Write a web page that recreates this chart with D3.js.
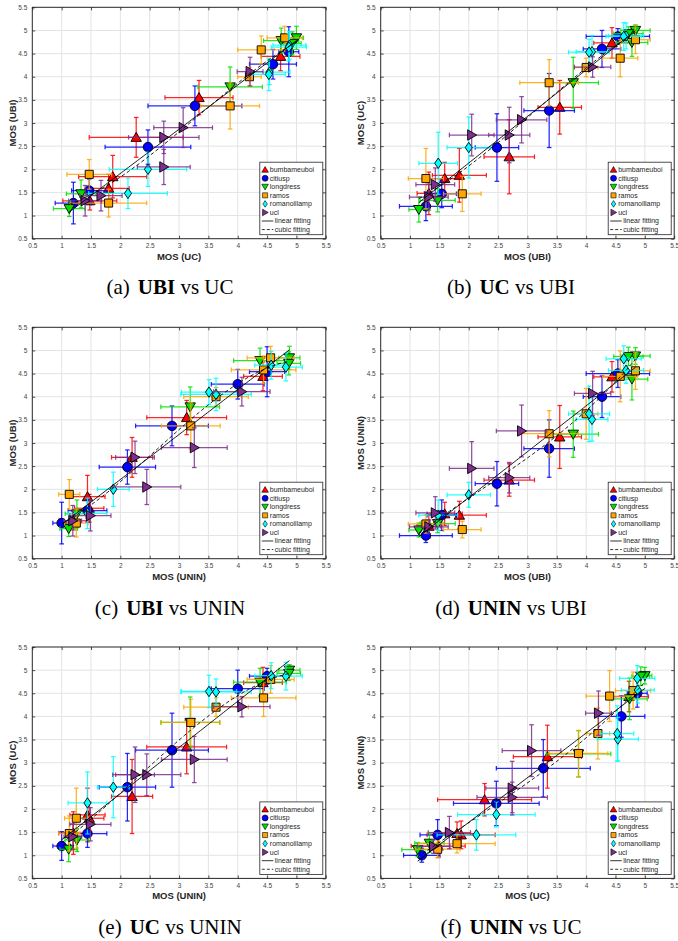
<!DOCTYPE html>
<html><head><meta charset="utf-8">
<script src="https://cdn.jsdelivr.net/npm/d3@7"></script>
<style>body{margin:0;background:#fff}</style>
</head><body>
<svg id="c" width="678" height="941"></svg>
<script>
// ---- data ----
const contents = ["bumbameuboi","citiusp","longdress","ramos","romanoillamp","ucl"];
const colors   = ["#ff0000","#0000ff","#00e000","#ffa500","#00ffff","#7e2f8e"];
const shapes   = ["triUp","circle","triDown","square","diamond","triRight"];
// MOS per lab, one row per content (6 stimuli each)
const mosUBI  = [[2.69,3.55,1.84,1.59,4.44,1.32],[2.48,3.37,4.27,4.54,1.54,1.27],[1.15,1.47,3.78,4.78,4.84,4.72],
                 [1.89,1.27,3.37,4.58,4.84,4.00],[2.00,1.48,4.10,4.05,4.68,4.64],[2.69,2.90,2.05,4.11,1.43,1.32]];
const mosUC   = [[2.27,3.34,1.87,1.80,4.73,1.48],[2.47,3.27,4.60,4.87,1.47,1.20],[1.13,1.33,3.87,4.74,5.00,4.93],
                 [1.47,1.80,3.87,4.40,4.80,4.20],[2.47,2.13,4.54,4.53,4.88,4.87],[2.74,3.07,2.74,4.21,1.67,1.40]];
const mosUNIN = [[2.20,3.13,1.44,1.47,4.43,1.20],[2.12,2.88,4.00,4.50,1.44,1.00],[1.12,1.26,3.19,4.38,4.88,4.87],
                 [1.13,1.25,3.20,4.44,4.56,3.63],[1.88,1.44,3.51,3.63,4.57,4.82],[2.25,3.26,2.45,4.07,1.49,1.19]];
// 95% confidence interval half-widths
const ciUBI  = [[0.43,0.37,0.46,0.30,0.31,0.20],[0.37,0.43,0.32,0.54,0.25,0.45],[0.17,0.30,0.43,0.27,0.25,0.25],
                [0.32,0.30,0.50,0.30,0.25,0.20],[0.37,0.33,0.27,0.35,0.30,0.30],[0.35,0.43,0.38,0.31,0.33,0.33]];
const ciUC   = [[0.80,0.58,0.58,0.35,0.33,0.46],[0.73,0.80,0.40,0.17,0.30,0.31],[0.27,0.25,0.55,0.30,0.12,0.15],
                [0.38,0.65,0.50,0.40,0.30,0.20],[0.66,0.67,0.35,0.28,0.28,0.30],[0.60,0.50,0.45,0.22,0.36,0.28]];
const ciUNIN = [[0.35,0.68,0.30,0.25,0.33,0.25],[0.48,0.62,0.45,0.30,0.33,0.15],[0.15,0.20,0.50,0.45,0.18,0.20],
                [0.18,0.20,0.50,0.55,0.40,0.55],[0.27,0.33,0.47,0.60,0.28,0.28],[0.33,0.56,0.58,0.48,0.35,0.15]];
const tickValues = [0.5,1,1.5,2,2.5,3,3.5,4,4.5,5,5.5];
const tickLabels = ["0.5","1","1.5","2","2.5","3","3.5","4","4.5","5","5.5"];
const fitLabels = ["linear fitting","cubic fitting"];
const labs = {UBI:[mosUBI,ciUBI], UC:[mosUC,ciUC], UNIN:[mosUNIN,ciUNIN]};
const panels = [
  {letter:"a", x:"UC",   y:"UBI"},
  {letter:"b", x:"UBI",  y:"UC"},
  {letter:"c", x:"UNIN", y:"UBI"},
  {letter:"d", x:"UBI",  y:"UNIN"},
  {letter:"e", x:"UNIN", y:"UC"},
  {letter:"f", x:"UC",   y:"UNIN"}
];

// ---- layout ----
const colLeft = [32.3, 380.7], plotW = 293.5;
const rowTop = [7.3, 327.3, 647], plotH = 231.4;
const capCx = [170, 511], capY = [294, 615, 934];
const sans = "'Liberation Sans', Arial, Helvetica, sans-serif";
const serif = "'Liberation Serif', 'Times New Roman', serif";
const axisCol = "#262626";

const svg = d3.select("#c");

function shapePath(kind, s) {
  const h = s/2;
  switch(kind){
    case "triUp":   return `M0,${-h*1.05}L${h*1.1},${h*0.85}L${-h*1.1},${h*0.85}Z`;
    case "triDown": return `M0,${h*1.05}L${h*1.1},${-h*0.85}L${-h*1.1},${-h*0.85}Z`;
    case "triRight":return `M${h*1.05},0L${-h*0.85},${h*1.1}L${-h*0.85},${-h*1.1}Z`;
    case "square":  return `M${-h*0.85},${-h*0.85}H${h*0.85}V${h*0.85}H${-h*0.85}Z`;
    case "diamond": return `M0,${-h*1.1}L${h*0.75},0L0,${h*1.1}L${-h*0.75},0Z`;
    default: return d3.symbol(d3.symbolCircle, Math.PI*h*h)();
  }
}

function polyfit(xs, ys, deg){
  const n = deg+1;
  const A = Array.from({length:n},()=>new Array(n+1).fill(0));
  xs.forEach((x,k)=>{
    for(let i=0;i<n;i++){
      for(let j=0;j<n;j++) A[i][j]+=Math.pow(x,i+j);
      A[i][n]+=ys[k]*Math.pow(x,i);
    }
  });
  for(let i=0;i<n;i++){
    let p=i; for(let r=i+1;r<n;r++) if(Math.abs(A[r][i])>Math.abs(A[p][i])) p=r;
    [A[i],A[p]]=[A[p],A[i]];
    for(let r=0;r<n;r++){ if(r===i) continue; const f=A[r][i]/A[i][i]; for(let c=i;c<=n;c++) A[r][c]-=f*A[i][c]; }
  }
  const c = A.map((row,i)=>row[n]/row[i]);
  return x => c.reduce((s,ci,i)=>s+ci*Math.pow(x,i),0);
}

panels.forEach((p, idx) => {
  const col = idx%2, row = Math.floor(idx/2);
  const g = svg.append("g").attr("transform", `translate(${colLeft[col]},${rowTop[row]})`);
  const x = d3.scaleLinear().domain([0.5,5.5]).range([0,plotW]);
  const y = d3.scaleLinear().domain([0.5,5.5]).range([plotH,0]);
  const [mx, cx] = labs[p.x], [my, cy] = labs[p.y];

  // grid
  g.append("g").selectAll("line").data(tickValues.slice(1,-1)).join("line")
    .attr("x1",d=>x(d)).attr("x2",d=>x(d)).attr("y1",0).attr("y2",plotH)
    .attr("stroke","#e3e3e3").attr("stroke-width",1);
  g.append("g").selectAll("line").data(tickValues.slice(1,-1)).join("line")
    .attr("y1",d=>y(d)).attr("y2",d=>y(d)).attr("x1",0).attr("x2",plotW)
    .attr("stroke","#e3e3e3").attr("stroke-width",1);

  // axes
  const fmt = d => tickLabels[tickValues.indexOf(d)];
  const styleAxis = a => {
    a.select(".domain").remove();
    a.selectAll("line").attr("stroke",axisCol).attr("stroke-width",0.8);
    a.selectAll("text").attr("font-family",sans).attr("font-size","6.5px").attr("fill","#444");
  };
  g.append("g").attr("transform",`translate(0,${plotH})`)
    .call(d3.axisBottom(x).tickValues(tickValues).tickFormat(fmt).tickSizeInner(-3).tickSizeOuter(0).tickPadding(5))
    .call(styleAxis);
  g.append("g").call(d3.axisLeft(y).tickValues(tickValues).tickFormat(fmt).tickSizeInner(-3).tickSizeOuter(0).tickPadding(5))
    .call(styleAxis);
  g.append("g").call(d3.axisTop(x).tickValues(tickValues).tickFormat("").tickSizeInner(-3).tickSizeOuter(0)).call(styleAxis);
  g.append("g").attr("transform",`translate(${plotW},0)`)
    .call(d3.axisRight(y).tickValues(tickValues).tickFormat("").tickSizeInner(-3).tickSizeOuter(0)).call(styleAxis);
  g.append("rect").attr("width",plotW).attr("height",plotH).attr("fill","none")
    .attr("stroke",axisCol).attr("stroke-width",1);

  // points
  const allX = [], allY = [];
  contents.forEach((name, ci) => {
    const pts = mx[ci].map((v,k)=>({x:v, y:my[ci][k], ex:cx[ci][k], ey:cy[ci][k]}));
    pts.forEach(d=>{allX.push(d.x); allY.push(d.y);});
    const sg = g.append("g");
    const eb = sg.append("g").attr("stroke",colors[ci]).attr("stroke-width",1.25).attr("stroke-opacity",0.85);
    const cap = 2.3;
    pts.forEach(d=>{
      const X=x(d.x), Y=y(d.y), x0=x(d.x-d.ex), x1=x(d.x+d.ex), y0=y(d.y-d.ey), y1=y(d.y+d.ey);
      eb.append("line").attr("x1",x0).attr("x2",x1).attr("y1",Y).attr("y2",Y);
      eb.append("line").attr("x1",x0).attr("x2",x0).attr("y1",Y-cap).attr("y2",Y+cap);
      eb.append("line").attr("x1",x1).attr("x2",x1).attr("y1",Y-cap).attr("y2",Y+cap);
      eb.append("line").attr("x1",X).attr("x2",X).attr("y1",y0).attr("y2",y1);
      eb.append("line").attr("x1",X-cap).attr("x2",X+cap).attr("y1",y0).attr("y2",y0);
      eb.append("line").attr("x1",X-cap).attr("x2",X+cap).attr("y1",y1).attr("y2",y1);
    });
    sg.selectAll("path").data(pts).join("path")
      .attr("d", shapePath(shapes[ci], 9.5))
      .attr("transform", d=>`translate(${x(d.x)},${y(d.y)})`)
      .attr("fill", colors[ci]).attr("stroke","#000").attr("stroke-width",0.9);
  });

  // fits
  const lo = d3.min(allX), hi = d3.max(allX);
  const lin = polyfit(allX, allY, 1), cub = polyfit(allX, allY, 3);
  const xsamp = d3.range(0,101).map(i=>lo+(hi-lo)*i/100);
  const line = d3.line().x(d=>x(d[0])).y(d=>y(d[1]));
  g.append("path").attr("d", line(xsamp.map(v=>[v,lin(v)]))).attr("fill","none")
    .attr("stroke","#000").attr("stroke-width",0.9);
  g.append("path").attr("d", line(xsamp.map(v=>[v,cub(v)]))).attr("fill","none")
    .attr("stroke","#000").attr("stroke-width",0.9).attr("stroke-dasharray","3.5,2.5");

  // axis labels
  g.append("text").attr("x",plotW/2).attr("y",plotH+21).attr("text-anchor","middle")
    .attr("font-family",sans).attr("font-weight","bold").attr("font-size","9.5px").attr("fill",axisCol)
    .text(`MOS (${p.x})`);
  g.append("text").attr("transform",`translate(${-16.5},${plotH/2}) rotate(-90)`).attr("text-anchor","middle")
    .attr("font-family",sans).attr("font-weight","bold").attr("font-size","9.5px").attr("fill",axisCol)
    .text(`MOS (${p.y})`);

  // legend
  const lw = 63, lh = 72.5;
  const lg = g.append("g").attr("transform",`translate(${plotW-3-lw},${plotH-4-lh})`);
  lg.append("rect").attr("width",lw).attr("height",lh).attr("fill","#fff").attr("stroke",axisCol).attr("stroke-width",0.8);
  const items = contents.map((c,i)=>({label:c, kind:"m", i})).concat(fitLabels.map((f,i)=>({label:f, kind:"l", i})));
  items.forEach((it, k) => {
    const cy0 = 7.5 + k*8.55;
    if (it.kind==="m") {
      lg.append("path").attr("d", shapePath(shapes[it.i], 6)).attr("transform",`translate(5.3,${cy0})`)
        .attr("fill",colors[it.i]).attr("stroke","#000").attr("stroke-width",0.6);
      lg.append("text").attr("x",10).attr("y",cy0+2.4).attr("font-family",sans).attr("font-size","7px")
        .attr("fill",axisCol).text(it.label);
    } else {
      lg.append("line").attr("x1",2).attr("x2",13.5).attr("y1",cy0).attr("y2",cy0).attr("stroke","#000")
        .attr("stroke-width",0.8).attr("stroke-dasharray", it.i===1 ? "3,2" : null);
      lg.append("text").attr("x",15).attr("y",cy0+2.4).attr("font-family",sans).attr("font-size","7px")
        .attr("fill",axisCol).text(it.label);
    }
  });

  // caption
  const parts = {a:["UBI","UC"],b:["UC","UBI"],c:["UBI","UNIN"],d:["UNIN","UBI"],e:["UC","UNIN"],f:["UNIN","UC"]}[p.letter];
  const cap = svg.append("text").attr("x",capCx[col]).attr("y",capY[row]).attr("text-anchor","middle")
    .attr("font-family",serif).attr("font-size","21px").attr("fill","#000");
  cap.append("tspan").text(`(${p.letter})`);
  cap.append("tspan").attr("dx",8).attr("font-weight","bold").text(parts[0]);
  cap.append("tspan").text(` vs ${parts[1]}`);
});
</script>
</body></html>
